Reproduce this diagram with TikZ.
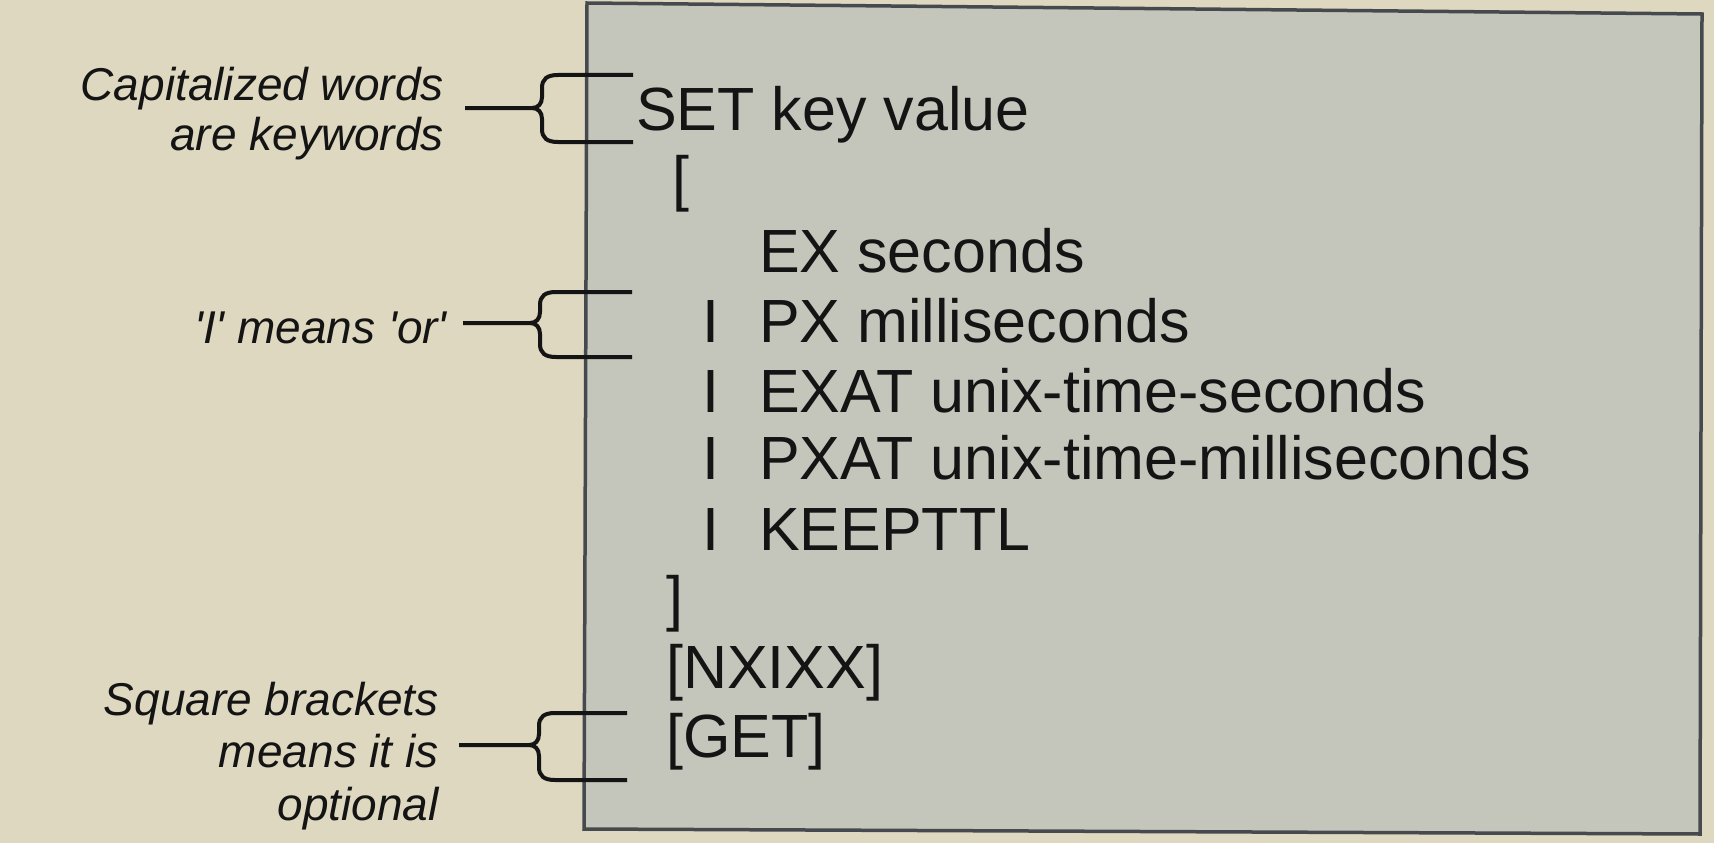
\documentclass[tikz,border=0pt]{standalone}
\usepackage{fontspec}
\setmainfont{Liberation Sans}
\definecolor{paper}{RGB}{222,216,192}
\definecolor{screen}{RGB}{196,198,188}
\definecolor{frame}{RGB}{70,74,78}
\definecolor{ink}{RGB}{20,20,20}
\tikzset{
  code/.style={anchor=base west, inner sep=0pt, text=ink, font=\fontsize{61}{70}\selectfont},
  lab/.style={anchor=base east, inner sep=0pt, text=ink, font=\fontsize{46}{52}\selectfont\itshape},
  brace/.style={draw=ink, line width=4pt, line cap=butt, line join=round},
  screenbox/.style={draw=frame, line width=3.5pt, fill=screen}
}
\begin{document}
\begin{tikzpicture}[x=1pt,y=-1pt]
\useasboundingbox (0,0) rectangle (1714,843);
\fill[paper] (0,0) rectangle (1714,843);
% the screen box
\path[screenbox] (587,3) -- (1702,14) -- (1700,834) -- (584,829) -- cycle;

% syntax lines
\node[code] (set)  at (636,130) {SET key value};
\node[code] (obr)  at (672,199) {[};
\node[code] (ex)   at (759,272) {EX seconds};
\node[code] (b1)   at (702,342) {I};
\node[code] (px)   at (759,342) {PX milliseconds};
\node[code] (b2)   at (702,412) {I};
\node[code] (exat) at (759,412) {EXAT unix-time-seconds};
\node[code] (b3)   at (702,479) {I};
\node[code] (pxat) at (759,479) {PXAT unix-time-milliseconds};
\node[code] (b4)   at (702,550) {I};
\node[code] (keep) at (759,550) {KEEPTTL};
\node[code] (cbr)  at (666,619) {]};
\node[code] (nx)   at (666,688) {[NXIXX]};
\node[code] (get)  at (666,757) {[GET]};

% annotation labels
\node[lab] (la1) at (444,100) {Capitalized words};
\node[lab] (la2) at (444,150) {are keywords};
\node[lab] (lb1) at (447,343) {\textquotesingle I\textquotesingle{} means \textquotesingle or\textquotesingle};
\node[lab] (lc1) at (439,715) {Square brackets};
\node[lab] (lc2) at (439,767) {means it is};
\node[lab] (lc3) at (439,820) {optional};

% braces: stem start s, tip t, upper arm end u, lower arm end d
\foreach \i/\s/\t/\y/\u/\d/\e in {1/465/532/108/75/142/633, 2/463/530/323/292/357/632, 3/459/529/745/713/780/627}{
  \coordinate (s\i) at (\s,\y);
  \coordinate (t\i) at (\t,\y);
  \coordinate (u\i) at (\e,\u);
  \coordinate (d\i) at (\e,\d);
  \draw[brace] (s\i) -- (t\i)
    .. controls (\t+6,\y) and (\t+10,\y-4) .. (\t+10,\y-11)
    -- (\t+10,\u+13)
    .. controls (\t+10,\u+4) and (\t+15,\u) .. (\t+26,\u)
    -- (u\i);
  \draw[brace] (t\i)
    .. controls (\t+6,\y) and (\t+10,\y+4) .. (\t+10,\y+11)
    -- (\t+10,\d-13)
    .. controls (\t+10,\d-4) and (\t+15,\d) .. (\t+26,\d)
    -- (d\i);
}
\end{tikzpicture}
\end{document}
